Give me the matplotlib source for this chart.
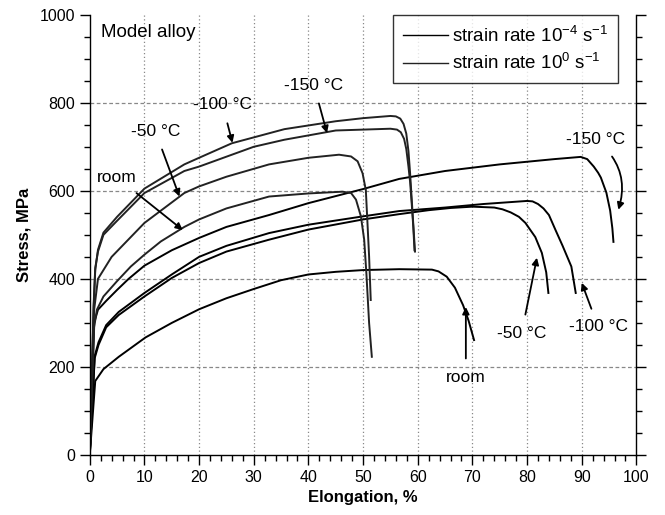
import numpy as np
import matplotlib
matplotlib.use('Agg')
import matplotlib.pyplot as plt
from matplotlib.ticker import MultipleLocator

plt.rcParams['font.family'] = ['Liberation Sans', 'DejaVu Sans']
plt.rcParams['mathtext.default'] = 'regular'

# strain rate 1e-4 s^-1 (long elongation set)
slow_room_x = [0, 1.0, 2.5, 5.3, 10.2, 15, 20, 25, 30, 35, 40, 45, 50, 56.6, 62.6, 63.8, 65.3, 66.8, 68.3, 69.3, 70.3]
slow_room_y = [0, 168, 195, 223, 267, 300, 331, 356, 377, 397, 410, 416, 420, 422, 421, 417, 405, 380, 340, 305, 261]
slow_m50_x = [0, 0.9, 1.6, 3, 5.3, 10, 15, 20, 25, 32.8, 40, 50, 56.6, 62, 66, 70, 74, 75.5, 77, 78.5, 79.7, 81.5, 82.7, 83.5, 83.9]
slow_m50_y = [0, 220, 250, 290, 318, 360, 402, 436, 462, 489, 512, 535, 547, 556, 561, 564, 562, 558, 551, 541, 527, 495, 459, 415, 368]
slow_m100_x = [0, 0.9, 1.6, 3, 5.3, 10, 15, 20, 25, 32.8, 40, 50, 56.6, 65, 72, 80, 81, 82, 83, 84, 85.2, 86.5, 88.1, 88.9]
slow_m100_y = [0, 225, 256, 295, 325, 368, 410, 450, 475, 504, 523, 542, 554, 562, 570, 577, 576, 570, 560, 545, 511, 475, 428, 368]
slow_m150_x = [0, 0.8, 1.5, 3, 5, 7.1, 10, 15, 20, 25, 32.8, 40, 50, 56.6, 65, 75, 85, 89.8, 91, 92.2, 93, 93.5, 94.5, 95.2, 95.6, 95.8]
slow_m150_y = [0, 300, 330, 350, 375, 400, 430, 465, 493, 518, 545, 572, 604, 627, 645, 660, 672, 677, 672, 655, 641, 630, 596, 555, 515, 484]

# strain rate 1e0 s^-1 (short elongation set)
fast_room_x = [0, 0.8, 1.3, 2.5, 5, 7.5, 10, 13, 17.3, 20, 25, 32.8, 40, 46.2, 47.8, 48.7, 49.6, 50.2, 50.6, 51.1, 51.6]
fast_room_y = [0, 290, 330, 360, 395, 428, 455, 485, 518, 535, 560, 587, 594, 598, 595, 580, 542, 489, 413, 300, 223]
fast_m50_x = [0, 0.8, 1.5, 4, 10, 17.3, 20, 25, 32.8, 40, 45.6, 47.8, 49.0, 49.9, 50.5, 50.8, 51.1, 51.4]
fast_m50_y = [0, 330, 400, 450, 527, 595, 610, 632, 660, 675, 682, 678, 667, 640, 602, 527, 451, 352]
fast_m100_x = [0, 0.7, 1.0, 1.5, 2.5, 5, 10, 17.3, 20, 26, 35.6, 45, 50, 55.0, 56.0, 56.8, 57.4, 57.9, 58.3, 58.6, 58.9, 59.2, 59.5]
fast_m100_y = [0, 330, 420, 466, 505, 541, 605, 660, 675, 708, 740, 758, 765, 770, 769, 764, 752, 730, 690, 640, 580, 520, 462]
fast_m150_x = [0, 0.7, 1.0, 1.5, 2.5, 5, 10, 17.3, 20, 30, 35.6, 45, 55, 56.2, 56.9, 57.5, 57.9, 58.3, 58.6, 58.9, 59.2, 59.4]
fast_m150_y = [0, 340, 425, 462, 500, 532, 595, 645, 655, 700, 716, 737, 741, 739, 733, 718, 695, 655, 620, 570, 515, 465]

fig = plt.figure(figsize=(6.65, 5.15), dpi=100)
ax = fig.add_axes([0.135, 0.1165, 0.822, 0.855])

lw = 1.4
for xs, ys in [(slow_room_x, slow_room_y), (slow_m50_x, slow_m50_y),
               (slow_m100_x, slow_m100_y), (slow_m150_x, slow_m150_y)]:
    ax.plot(xs, ys, color='black', lw=lw)
for xs, ys in [(fast_room_x, fast_room_y), (fast_m50_x, fast_m50_y),
               (fast_m100_x, fast_m100_y), (fast_m150_x, fast_m150_y)]:
    ax.plot(xs, ys, color='#222222', lw=lw)

# legend handles
ax.plot([], [], color='black', lw=1.0, label='strain rate 10$^{-4}$ s$^{-1}$')
ax.plot([], [], color='#222222', lw=1.0, label='strain rate 10$^{0}$ s$^{-1}$')
leg = ax.legend(loc='upper right', bbox_to_anchor=(0.967, 0.999), fontsize=13.5, frameon=True,
                fancybox=False, edgecolor='black', handlelength=2.4, handletextpad=0.2,
                borderpad=0.55, labelspacing=0.4, borderaxespad=0)
leg.get_frame().set_linewidth(1.0)

ax.set_xlim(0, 100)
ax.set_ylim(0, 1000)
ax.xaxis.set_major_locator(MultipleLocator(10))
ax.xaxis.set_minor_locator(MultipleLocator(2))
ax.yaxis.set_major_locator(MultipleLocator(200))
ax.yaxis.set_minor_locator(MultipleLocator(50))
ax.tick_params(which='both', direction='out', right=True, top=False, labelright=False,
               labelsize=11.5, width=1.0)
ax.tick_params(which='major', length=7)
ax.tick_params(which='minor', length=4)
ax.spines['top'].set_visible(False)
for s in ['left', 'bottom', 'right']:
    ax.spines[s].set_linewidth(1.0)

for gx in range(10, 100, 10):
    ax.axvline(gx, color='#888888', lw=0.9, ls=(0, (1, 2)), zorder=0)
for gy in range(200, 1000, 200):
    ax.axhline(gy, color='#888888', lw=0.9, ls=(0, (3, 2)), zorder=0)

ax.set_xlabel('Elongation, %', fontsize=12, fontweight='bold', labelpad=4)
ax.set_ylabel('Stress, MPa', fontsize=12, fontweight='bold', labelpad=6)

ax.text(2.0, 960, 'Model alloy', fontsize=13.5, va='center', ha='left')

arrow = dict(arrowstyle='-|>', color='black', lw=1.3, mutation_scale=10, shrinkA=6, shrinkB=0)
fs = 12.5
ax.annotate('-100 °C', xy=(26.1, 709), xytext=(24.3, 795), fontsize=fs, ha='center', va='center', arrowprops=arrow)
ax.annotate('-150 °C', xy=(43.4, 731), xytext=(41, 840), fontsize=fs, ha='center', va='center', arrowprops=arrow)
ax.annotate('-50 °C', xy=(16.4, 587), xytext=(12, 735), fontsize=fs, ha='center', va='center', arrowprops=arrow)
ax.annotate('room', xy=(17, 511), xytext=(5.0, 630), fontsize=fs, ha='center', va='center', arrowprops=arrow)

ax.annotate('-150 °C', xy=(96.7, 557), xytext=(92.5, 716), fontsize=fs, ha='center', va='center',
            arrowprops=dict(arrowstyle='-|>', color='black', lw=1.3, mutation_scale=10, shrinkA=6, shrinkB=0,
                            connectionstyle='arc3,rad=-0.35'))
ax.annotate('-100 °C', xy=(90.0, 391), xytext=(93.0, 291), fontsize=fs, ha='center', va='center', arrowprops=arrow)
ax.annotate('-50 °C', xy=(81.8, 448), xytext=(79.0, 277), fontsize=fs, ha='center', va='center', arrowprops=arrow)
ax.annotate('room', xy=(68.8, 336), xytext=(68.8, 177), fontsize=fs, ha='center', va='center', arrowprops=arrow)

fig.savefig('out.png', dpi=100)
